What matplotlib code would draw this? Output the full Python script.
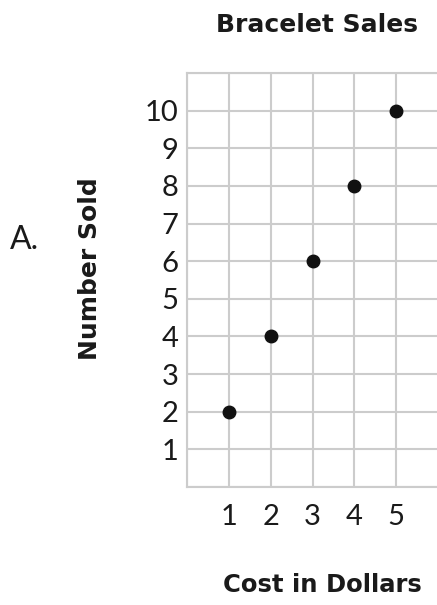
import matplotlib
matplotlib.use('Agg')
import matplotlib.pyplot as plt

# Bracelet sales data
cost = [1, 2, 3, 4, 5]
number_sold = [2, 4, 6, 8, 10]
x_ticks = [1, 2, 3, 4, 5]
y_ticks = [1, 2, 3, 4, 5, 6, 7, 8, 9, 10]

plt.rcParams['font.family'] = ['Lato', 'DejaVu Sans']
label_font = ['DejaVu Sans']

fig = plt.figure(figsize=(4.37, 6.05), dpi=100)
ax = fig.add_axes([187 / 437, (605 - 487) / 605, 251 / 437, (487 - 73) / 605])

ax.set_xlim(0, 6)
ax.set_ylim(0, 11)
ax.set_xticks(range(0, 7))
ax.set_xticklabels([''] + [str(v) for v in x_ticks] + [''])
ax.set_yticks(range(0, 12))
ax.set_yticklabels([''] + [str(v) for v in y_ticks] + [''])
ax.tick_params(length=0, labelsize=21, labelcolor='#1a1a1a')
ax.tick_params(axis='x', pad=12)
ax.tick_params(axis='y', pad=6)

ax.grid(True, color='#cccccc', linewidth=1.5)
for sp in ax.spines.values():
    sp.set_color('#cccccc')
    sp.set_linewidth(1.5)
ax.set_axisbelow(True)

ax.plot(cost, number_sold, 'o', color='#111111', markersize=9, clip_on=False)

fig.text(317 / 437, 1 - 25 / 605, 'Bracelet Sales', ha='center', va='center',
         fontsize=18, fontweight='bold', color='#1a1a1a', family=label_font)
fig.text(322 / 437, 1 - 585 / 605, 'Cost in Dollars', ha='center', va='center',
         fontsize=17.5, fontweight='bold', color='#1a1a1a', family=label_font)
fig.text(90 / 437, 1 - 269 / 605, 'Number Sold', ha='center', va='center',
         rotation=90, fontsize=18, fontweight='bold', color='#1a1a1a',
         family=label_font)
fig.text(24 / 437, 1 - 240 / 605, 'A.', ha='center', va='center',
         fontsize=23, color='#1a1a1a')

fig.savefig('out.png', dpi=100, facecolor='white')
